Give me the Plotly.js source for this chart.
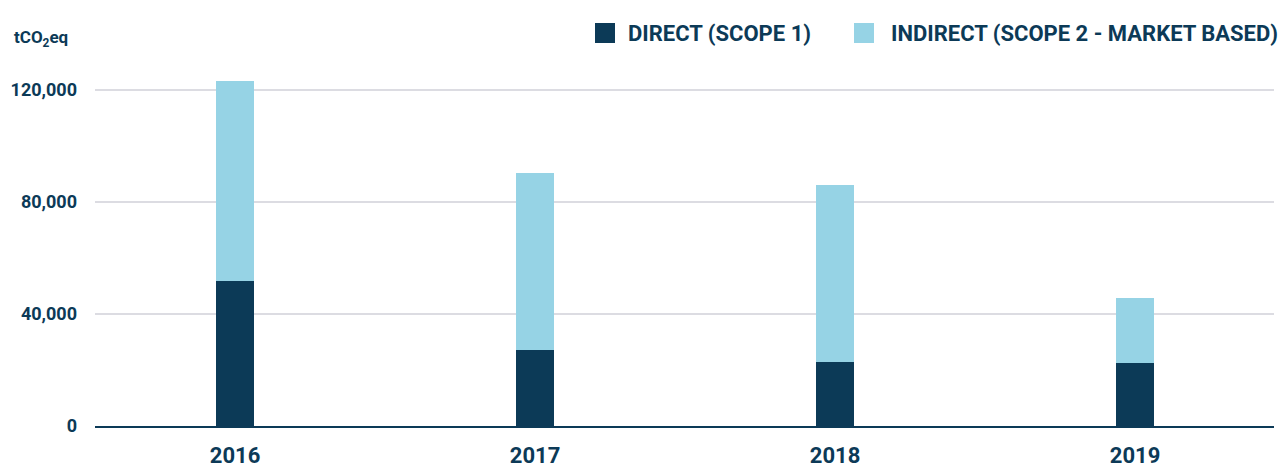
<!DOCTYPE html>
<html>
<head>
<meta charset="utf-8">
<script src="https://cdn.plot.ly/plotly-3.0.1.min.js"></script>
<style>html,body{margin:0;padding:0;background:#fff;}#chart{width:1284px;height:468px;}</style>
</head>
<body>
<div id="chart"></div>
<script>
const years = ['2016', '2017', '2018', '2019'];
const direct = [51800, 27100, 22800, 22460];
const indirect = [71550, 63100, 63100, 23170];
const seriesNames = ['DIRECT (SCOPE 1)', 'INDIRECT (SCOPE 2 - MARKET BASED)'];
const yTicks = [0, 40000, 80000, 120000];
const unitLabel = 'tCO<sub>2</sub>eq';

const navy = '#0c3a57';
const light = '#96d3e5';
const FONT = '"Roboto", sans-serif';

const traces = [
  {type: 'bar', name: seriesNames[0], x: years, y: direct, marker: {color: navy}, width: 0.127, hoverinfo: 'none'},
  {type: 'bar', name: seriesNames[1], x: years, y: indirect, marker: {color: light}, width: 0.127, hoverinfo: 'none'}
];

const layout = {
  width: 1284, height: 468,
  margin: {l: 95, r: 10, t: 62, b: 42},
  barmode: 'stack',
  showlegend: false,
  paper_bgcolor: '#fff', plot_bgcolor: '#fff',
  font: {family: FONT, color: navy},
  xaxis: {
    type: 'category', range: [-0.467, 3.463],
    showgrid: false, showline: true, linecolor: navy, linewidth: 2,
    ticks: '', ticklabelstandoff: 9,
    tickfont: {family: FONT, size: 22, color: navy, weight: 'bold'}
  },
  yaxis: {
    range: [0, 130000], tickvals: yTicks, tickformat: ',',
    showgrid: true, gridcolor: '#dcdce2', gridwidth: 1.5,
    zeroline: false, showline: false, ticks: '', ticklabelstandoff: 17,
    tickfont: {family: FONT, size: 18, color: navy, weight: 'bold'}
  },
  shapes: [
    {type: 'rect', xref: 'paper', yref: 'paper', x0: (595-95)/1179, x1: (615-95)/1179, y0: (426-43)/364, y1: (426-23)/364, fillcolor: navy, line: {width: 0}},
    {type: 'rect', xref: 'paper', yref: 'paper', x0: (854-95)/1179, x1: (874-95)/1179, y0: (426-43)/364, y1: (426-23)/364, fillcolor: light, line: {width: 0}}
  ],
  annotations: [
    {xref: 'paper', yref: 'paper', x: -83/1179, y: (426-38)/364, xanchor: 'left', yanchor: 'middle', text: unitLabel, showarrow: false, font: {family: FONT, size: 17, color: navy, weight: 'bold'}},
    {xref: 'paper', yref: 'paper', x: (626-95)/1179, y: (426-33)/364, xanchor: 'left', yanchor: 'middle', text: seriesNames[0], showarrow: false, font: {family: FONT, size: 22, color: navy, weight: 'bold'}},
    {xref: 'paper', yref: 'paper', x: (889-95)/1179, y: (426-33)/364, xanchor: 'left', yanchor: 'middle', text: seriesNames[1], showarrow: false, font: {family: FONT, size: 22, color: navy, weight: 'bold'}}
  ]
};

Plotly.newPlot('chart', traces, layout, {displayModeBar: false, staticPlot: true});
</script>
</body>
</html>
